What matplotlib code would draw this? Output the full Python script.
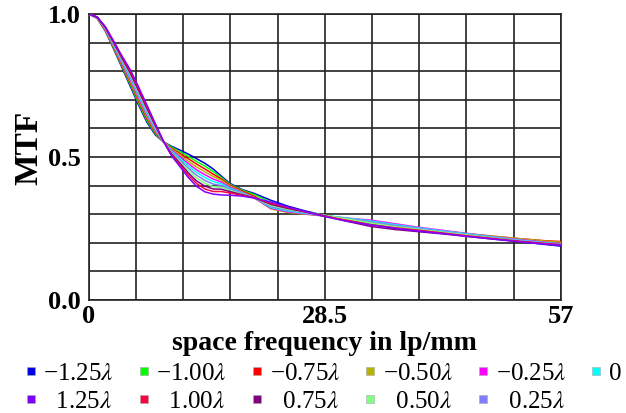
import matplotlib
matplotlib.use("Agg")
import matplotlib.pyplot as plt
import numpy as np
from matplotlib.lines import Line2D

plt.rcParams.update({
    'font.family': ['Liberation Serif', 'DejaVu Serif'],
    'mathtext.fontset': 'stix',
})

# spatial frequency samples (lp/mm)
freq = [0, 1, 2, 3, 4, 5, 6, 7, 8, 9, 10, 11, 12, 13, 14, 15, 16, 17, 18.5, 20,
        22, 24, 26, 28.5, 31, 34, 37, 40, 43, 46, 49, 52, 55, 57]

# MTF per defocus value
mtf_m125 = [1.0, .985, .940, .877, .812, .747, .682, .622, .578, .553, .537, .524, .510, .494, .478, .458, .433,
            .408, .386, .372, .348, .328, .312, .295, .282, .268, .255, .245, .235, .224, .214, .204, .194, .188]
mtf_m100 = [1.0, .986, .942, .880, .816, .753, .688, .628, .582, .553, .534, .518, .502, .484, .468, .449, .428,
            .405, .384, .368, .340, .322, .308, .294, .282, .269, .256, .246, .237, .227, .218, .210, .202, .197]
mtf_m075 = [1.0, .986, .943, .883, .820, .759, .695, .634, .586, .553, .530, .512, .494, .475, .458, .440, .423,
            .402, .381, .362, .328, .313, .303, .293, .283, .271, .258, .248, .239, .230, .222, .214, .207, .204]
mtf_m050 = [1.0, .987, .945, .885, .824, .764, .701, .640, .590, .554, .527, .507, .485, .465, .448, .432, .418,
            .399, .378, .356, .318, .306, .300, .293, .284, .273, .261, .250, .240, .231, .222, .214, .206, .202]
mtf_m025 = [1.0, .987, .946, .888, .828, .770, .707, .646, .594, .554, .523, .501, .477, .455, .438, .423, .412,
            .395, .376, .356, .320, .308, .301, .294, .286, .279, .266, .253, .242, .231, .220, .211, .202, .197]
mtf_0 = [1.0, .988, .948, .891, .833, .776, .714, .652, .598, .554, .520, .495, .469, .446, .428, .414, .406,
         .391, .374, .357, .323, .311, .303, .295, .287, .276, .263, .251, .240, .230, .219, .209, .200, .195]
mtf_p025 = [1.0, .988, .949, .894, .837, .782, .720, .658, .602, .554, .517, .489, .461, .436, .418, .405, .400,
            .387, .372, .357, .326, .314, .305, .295, .286, .273, .260, .249, .238, .228, .217, .207, .198, .193]
mtf_p050 = [1.0, .989, .951, .897, .841, .788, .726, .664, .606, .554, .513, .483, .453, .426, .408, .396, .394,
            .383, .370, .357, .330, .317, .307, .296, .284, .269, .256, .246, .236, .226, .215, .205, .196, .191]
mtf_p075 = [1.0, .989, .952, .899, .845, .793, .732, .670, .610, .555, .510, .478, .444, .416, .398, .388, .387,
            .379, .368, .357, .334, .320, .308, .294, .276, .257, .246, .238, .230, .221, .212, .204, .196, .190]
mtf_p100 = [1.0, .990, .954, .902, .849, .799, .739, .676, .614, .555, .506, .472, .436, .407, .388, .379, .379,
            .374, .366, .357, .338, .323, .309, .293, .279, .263, .252, .243, .233, .223, .214, .205, .197, .193]
mtf_p125 = [1.0, .990, .955, .905, .853, .805, .745, .682, .618, .555, .503, .466, .428, .397, .378, .370, .367,
            .366, .363, .356, .342, .325, .310, .291, .276, .262, .250, .240, .231, .221, .212, .203, .195, .191]

labels = ['\u22121.25$\\lambda$', '\u22121.00$\\lambda$', '\u22120.75$\\lambda$',
          '\u22120.50$\\lambda$', '\u22120.25$\\lambda$', '0',
          '  0.25$\\lambda$', '  0.50$\\lambda$', '  0.75$\\lambda$',
          '  1.00$\\lambda$', '  1.25$\\lambda$']
curves = [mtf_m125, mtf_m100, mtf_m075, mtf_m050, mtf_m025, mtf_0,
          mtf_p025, mtf_p050, mtf_p075, mtf_p100, mtf_p125]
colors = ['#0000e0', '#00ff00', '#ff0000', '#b4b400', '#ff00ff', '#00ffff',
          '#7f7fff', '#80ff80', '#800080', '#ff0040', '#8000ff']

fig = plt.figure(figsize=(6.26, 4.13), dpi=100)
ax = fig.add_axes([0.142, 0.274, 0.754, 0.692])

for y, c in zip(curves, colors):
    ax.plot(freq, y, color=c, lw=1.1, zorder=3)

ax.set_xlim(0, 57)
ax.set_ylim(0, 1.0)
ax.set_xticks(np.linspace(0, 57, 11))
ax.set_xticklabels(['0', '', '', '', '', '28.5', '', '', '', '', '57'])
ax.set_yticks(np.linspace(0, 1.0, 11))
ax.set_yticklabels(['0.0', '', '', '', '', '0.5', '', '', '', '', '1.0'])
ax.tick_params(length=0, pad=6, labelsize=19)
ax.tick_params(axis='x', pad=4)
for t in ax.get_xticklabels() + ax.get_yticklabels():
    t.set_fontweight('bold')
ax.grid(True, color='#222222', lw=1.2)
for s in ax.spines.values():
    s.set_color('#222222')
    s.set_linewidth(1.2)

ax.set_xlabel('space frequency in lp/mm', fontsize=20, fontweight='bold', va='top')
ax.xaxis.set_label_coords(0.5, -0.108)
ax.set_ylabel('MTF', fontsize=24, fontweight='bold')
ax.yaxis.set_label_coords(-0.095, 0.53)

# legend: column-major, row 1 = negative defocus + 0, row 2 = positive
order = [0, 10, 1, 9, 2, 8, 3, 7, 4, 6, 5]
handles = [Line2D([0], [0], ls='none', marker='s', ms=5.5, mfc=colors[i],
                  mec='#aaaaaa', mew=0.4, label=labels[i]) for i in order]
fig.legend(handles=handles, loc='center', bbox_to_anchor=(0.515, 0.062), ncol=6,
           frameon=False, fontsize=18, handlelength=0.6, handletextpad=0.2,
           columnspacing=0.9, labelspacing=0.22, borderpad=0)

fig.savefig('out.png', dpi=100)
